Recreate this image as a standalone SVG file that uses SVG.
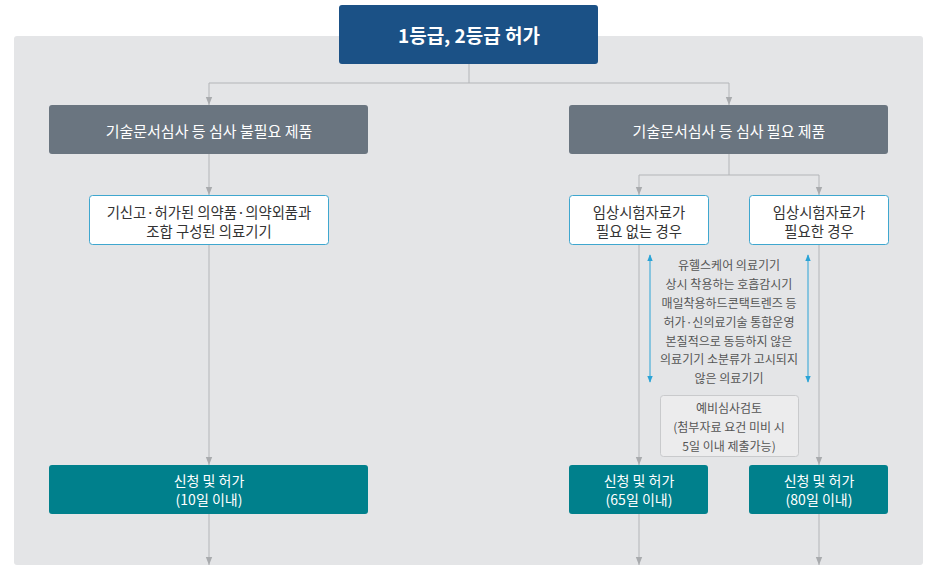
<svg xmlns="http://www.w3.org/2000/svg" width="935" height="573" viewBox="0 0 935 573">
<defs>
<marker id="ah" viewBox="0 0 10 10" refX="10" refY="5" markerWidth="8" markerHeight="8" markerUnits="userSpaceOnUse" orient="auto"><path d="M0,1 L10,5 L0,9 Z" fill="#a9abae"/></marker>
<marker id="bh" viewBox="0 0 10 10" refX="9" refY="5" markerWidth="7" markerHeight="7" markerUnits="userSpaceOnUse" orient="auto-start-reverse"><path d="M0,1 L10,5 L0,9 Z" fill="#2aa3d6"/></marker>
<style>
text{font-family:"Noto Sans CJK KR","Noto Sans",sans-serif;text-anchor:middle;dominant-baseline:central}
.c{fill:none;stroke:#b3b5b8;stroke-width:1}
.top{fill:#1b5186}
.gr{fill:#6a7580}
.wb{fill:#ffffff;stroke:#3fa7cf;stroke-width:1}
.tl{fill:#00808c}
.w{fill:#ffffff;font-size:14px}
.w15{fill:#ffffff;font-size:15px}
.d{fill:#333333;font-size:14.4px}
.n{fill:#555555;font-size:12px}
.ba{stroke:#2aa3d6;stroke-width:1;fill:none}
</style>
</defs>
<rect x="14" y="36" width="909" height="529" rx="3" fill="#e4e5e7"/>
<g id="connectors">
<path class="c" d="M469,64 V83 M209,83 H729"/>
<path class="c" d="M209,83 V105" marker-end="url(#ah)"/>
<path class="c" d="M729,83 V105" marker-end="url(#ah)"/>
<path class="c" d="M209,154 V195" marker-end="url(#ah)"/>
<path class="c" d="M729,154 V175 M639,175 H819"/>
<path class="c" d="M639,175 V195" marker-end="url(#ah)"/>
<path class="c" d="M819,175 V195" marker-end="url(#ah)"/>
<path class="c" d="M209,244 V465" marker-end="url(#ah)"/>
<path class="c" d="M639,244 V465" marker-end="url(#ah)"/>
<path class="c" d="M819,244 V465" marker-end="url(#ah)"/>
<path class="c" d="M209,514 V565" marker-end="url(#ah)"/>
<path class="c" d="M639,514 V565" marker-end="url(#ah)"/>
<path class="c" d="M819,514 V565" marker-end="url(#ah)"/>
<path class="ba" d="M650,255 V382" marker-start="url(#bh)" marker-end="url(#bh)"/>
<path class="ba" d="M808,255 V382" marker-start="url(#bh)" marker-end="url(#bh)"/>
</g>
<g id="top">
<rect class="top" x="339" y="5" width="259" height="59" rx="3"/>
<text x="469" y="34" fill="#ffffff" font-size="19" font-weight="bold">1등급, 2등급 허가</text>
</g>
<g id="nonreview">
<rect class="gr" x="49" y="105" width="319" height="49" rx="3"/>
<text class="w15" x="209" y="130">기술문서심사 등 심사 불필요 제품</text>
</g>
<g id="review">
<rect class="gr" x="569" y="105" width="319" height="49" rx="3"/>
<text class="w15" x="729" y="130">기술문서심사 등 심사 필요 제품</text>
</g>
<g id="combo">
<rect class="wb" x="89.5" y="195.5" width="239" height="49" rx="3"/>
<text class="d" x="209" y="211">기신고·허가된 의약품·의약외품과</text>
<text class="d" x="209" y="230">조합 구성된 의료기기</text>
</g>
<g id="noclinical">
<rect class="wb" x="569.5" y="195.5" width="139" height="49" rx="3"/>
<text class="d" x="639" y="211">임상시험자료가</text>
<text class="d" x="639" y="230">필요 없는 경우</text>
</g>
<g id="clinical">
<rect class="wb" x="749.5" y="195.5" width="139" height="49" rx="3"/>
<text class="d" x="819" y="211">임상시험자료가</text>
<text class="d" x="819" y="230">필요한 경우</text>
</g>
<g id="examples">
<text class="n" x="729" y="264">유헬스케어 의료기기</text>
<text class="n" x="729" y="283">상시 착용하는 호흡감시기</text>
<text class="n" x="729" y="302">매일착용하드콘택트렌즈 등</text>
<text class="n" x="729" y="321">허가·신의료기술 통합운영</text>
<text class="n" x="729" y="340">본질적으로 동등하지 않은</text>
<text class="n" x="729" y="358">의료기기 소분류가 고시되지</text>
<text class="n" x="729" y="377">않은 의료기기</text>
</g>
<g id="prereview">
<rect x="660.5" y="395.5" width="138" height="61" rx="3" fill="#ececed" stroke="#c9cacc"/>
<text class="n" x="729" y="407">예비심사검토</text>
<text class="n" x="729" y="426">(첨부자료 요건 미비 시</text>
<text class="n" x="729" y="445">5일 이내 제출가능)</text>
</g>
<g id="apply10">
<rect class="tl" x="49" y="465" width="319" height="49" rx="3"/>
<text class="w" x="209" y="480">신청 및 허가</text>
<text class="w" x="209" y="499">(10일 이내)</text>
</g>
<g id="apply65">
<rect class="tl" x="569" y="465" width="139" height="49" rx="3"/>
<text class="w" x="639" y="480">신청 및 허가</text>
<text class="w" x="639" y="499">(65일 이내)</text>
</g>
<g id="apply80">
<rect class="tl" x="749" y="465" width="139" height="49" rx="3"/>
<text class="w" x="819" y="480">신청 및 허가</text>
<text class="w" x="819" y="499">(80일 이내)</text>
</g>
</svg>
